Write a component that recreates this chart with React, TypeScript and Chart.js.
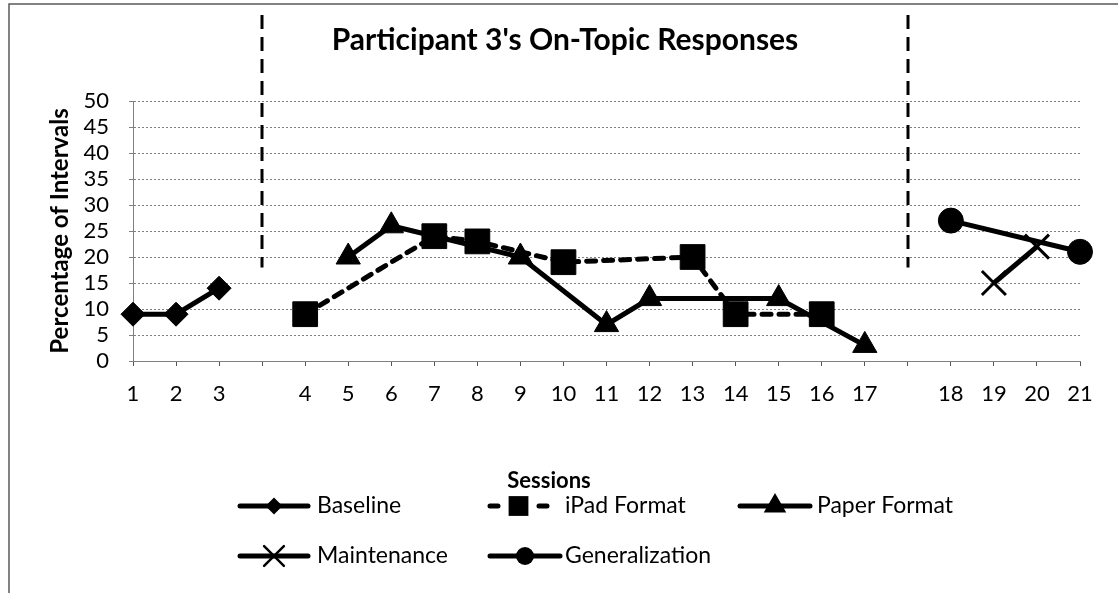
import React, { useEffect, useRef } from 'react';
import { Chart, registerables } from 'chart.js';

Chart.register(...registerables);

// Category axis: blank slots are phase-change positions
const categories = ['1', '2', '3', '', '4', '5', '6', '7', '8', '9', '10', '11', '12', '13', '14', '15', '16', '17', '', '18', '19', '20', '21'];

const baseline = [9, 9, 14, null, null, null, null, null, null, null, null, null, null, null, null, null, null, null, null, null, null, null, null];
const ipadFormat = [null, null, null, null, 9, null, null, 24, 23, null, 19, null, null, 20, 9, null, 9, null, null, null, null, null, null];
const paperFormat = [null, null, null, null, null, 20, 26, null, null, 20, null, 7, 12, null, null, 12, null, 3, null, null, null, null, null];
const maintenance = [null, null, null, null, null, null, null, null, null, null, null, null, null, null, null, null, null, null, null, null, 15, 22, null];
const generalization = [null, null, null, null, null, null, null, null, null, null, null, null, null, null, null, null, null, null, null, 27, null, null, 21];

const seriesLabels = ['Baseline', 'iPad Format', 'Paper Format', 'Maintenance', 'Generalization'];
const yTicksMax = 50;
const yTicksStep = 5;
const phaseLineTopValue = 18;

const chartTitle = "Participant 3's On-Topic Responses";
const xTitle = 'Sessions';
const yTitle = 'Percentage of Intervals';

const FONT = 'Lato';

function drawMarker(ctx: CanvasRenderingContext2D, style: string, x: number, y: number, r: number) {
  ctx.save();
  ctx.fillStyle = '#000';
  ctx.strokeStyle = '#000';
  ctx.setLineDash([]);
  ctx.beginPath();
  if (style === 'rectRot') {
    ctx.moveTo(x, y - r);
    ctx.lineTo(x + r, y);
    ctx.lineTo(x, y + r);
    ctx.lineTo(x - r, y);
    ctx.closePath();
    ctx.fill();
  } else if (style === 'rect') {
    const s = r * Math.SQRT1_2;
    ctx.rect(x - s, y - s, 2 * s, 2 * s);
    ctx.fill();
  } else if (style === 'triangle') {
    let a = 0;
    ctx.moveTo(x + Math.sin(a) * r, y - Math.cos(a) * r);
    a += (2 * Math.PI) / 3;
    ctx.lineTo(x + Math.sin(a) * r, y - Math.cos(a) * r);
    a += (2 * Math.PI) / 3;
    ctx.lineTo(x + Math.sin(a) * r, y - Math.cos(a) * r);
    ctx.closePath();
    ctx.fill();
  } else if (style === 'circle') {
    ctx.arc(x, y, r, 0, Math.PI * 2);
    ctx.fill();
  } else if (style === 'crossRot') {
    const o = r * Math.SQRT1_2;
    ctx.lineWidth = 2.5;
    ctx.moveTo(x - o, y - o);
    ctx.lineTo(x + o, y + o);
    ctx.moveTo(x - o, y + o);
    ctx.lineTo(x + o, y - o);
    ctx.stroke();
  }
  ctx.restore();
}

const decorPlugin = {
  id: 'decor',
  beforeDraw(chart: any) {
    const ctx = chart.ctx as CanvasRenderingContext2D;
    ctx.save();
    ctx.strokeStyle = '#5a5a5a';
    ctx.lineWidth = 1.5;
    ctx.beginPath();
    ctx.moveTo(9, chart.height);
    ctx.lineTo(9, 4);
    ctx.lineTo(chart.width, 4);
    ctx.stroke();
    ctx.restore();
  },
  afterDraw(chart: any) {
    const ctx = chart.ctx as CanvasRenderingContext2D;
    const xs = chart.scales.x;
    const ys = chart.scales.y;

    // phase-change lines
    ctx.save();
    ctx.strokeStyle = '#000';
    ctx.lineWidth = 3;
    ctx.setLineDash([14, 8]);
    categories.forEach((c, i) => {
      if (c !== '') return;
      const px = Math.round(xs.getPixelForValue(i));
      ctx.beginPath();
      ctx.moveTo(px, 15);
      ctx.lineTo(px, ys.getPixelForValue(phaseLineTopValue));
      ctx.stroke();
    });
    ctx.restore();

    // title
    ctx.save();
    ctx.fillStyle = '#000';
    ctx.font = `bold 30px ${FONT}`;
    ctx.textAlign = 'center';
    ctx.textBaseline = 'middle';
    ctx.fillText(chartTitle, 565, 40);

    // x axis title
    ctx.font = `bold 22px ${FONT}`;
    ctx.fillText(xTitle, 549, 481);
    ctx.restore();

    // legend: [sampleStart, sampleEnd, textStart, y]
    const pos = [
      [238, 310, 317, 506],
      [488, 549, 565, 506],
      [738, 812, 817, 506],
      [238, 310, 317, 556],
      [488, 562, 565, 556],
    ];
    const markerR = [8.5, 14, 13, 14, 9];
    chart.data.datasets.forEach((ds: any, i: number) => {
      const [x0, x1, tx, ly] = pos[i];
      const mid = (x0 + x1) / 2;
      ctx.save();
      ctx.strokeStyle = '#000';
      ctx.lineWidth = 5;
      ctx.lineCap = 'round';
      if (ds.borderDash && ds.borderDash.length) {
        ctx.beginPath();
        ctx.moveTo(x0 + 2, ly);
        ctx.lineTo(x0 + 10, ly);
        ctx.moveTo(x1 - 10, ly);
        ctx.lineTo(x1 - 2, ly);
        ctx.stroke();
      } else {
        ctx.beginPath();
        ctx.moveTo(x0 + 2, ly);
        ctx.lineTo(x1 - 2, ly);
        ctx.stroke();
      }
      drawMarker(ctx, ds.pointStyle, mid, ly, markerR[i]);
      ctx.fillStyle = '#000';
      ctx.font = `23px ${FONT}`;
      ctx.textAlign = 'left';
      ctx.textBaseline = 'middle';
      ctx.fillText(ds.label, tx, ly);
      ctx.restore();
    });
  },
};

export default function App() {
  const canvasRef = useRef<HTMLCanvasElement | null>(null);

  useEffect(() => {
    if (!canvasRef.current) return;
    const common = {
      borderColor: '#000',
      backgroundColor: '#000',
      pointBackgroundColor: '#000',
      pointBorderColor: '#000',
      borderWidth: 5,
      spanGaps: true,
      tension: 0,
    };
    const chart = new Chart(canvasRef.current, {
      type: 'line',
      data: {
        labels: categories,
        datasets: [
          { ...common, label: seriesLabels[0], data: baseline, pointStyle: 'rectRot', pointRadius: 12, pointBorderWidth: 1 },
          { ...common, label: seriesLabels[1], data: ipadFormat, pointStyle: 'rect', pointRadius: 17.5, pointBorderWidth: 1, borderDash: [9, 8], borderCapStyle: 'round' },
          { ...common, label: seriesLabels[2], data: paperFormat, pointStyle: 'triangle', pointRadius: 14, pointBorderWidth: 1 },
          { ...common, label: seriesLabels[3], data: maintenance, pointStyle: 'crossRot', pointRadius: 17, pointBorderWidth: 3 },
          { ...common, label: seriesLabels[4], data: generalization, pointStyle: 'circle', pointRadius: 12.5, pointBorderWidth: 1 },
        ],
      },
      options: {
        responsive: false,
        animation: false,
        devicePixelRatio: 1,
        layout: { padding: { top: 101, right: 38, bottom: 182, left: 0 } },
        plugins: {
          legend: { display: false },
          title: { display: false },
          tooltip: { enabled: false },
        },
        scales: {
          x: {
            type: 'category',
            offset: false,
            grid: { drawOnChartArea: false, drawTicks: true, tickLength: 5, color: '#555' },
            border: { display: true, color: '#808080', width: 1, dash: [2, 2] },
            ticks: { color: '#000', font: { family: FONT, size: 22 }, padding: 15, maxRotation: 0, minRotation: 0, autoSkip: false },
            afterFit: (s: any) => { s.height = 50; },
          },
          y: {
            min: 0,
            max: yTicksMax,
            grid: { color: '#808080', lineWidth: 1, drawTicks: true, tickLength: 4 },
            border: { display: true, color: '#808080', width: 1, dash: [2, 2] },
            ticks: { stepSize: yTicksStep, autoSkip: false, color: '#000', font: { family: FONT, size: 22, lineHeight: 1 }, padding: 20 },
            title: { display: true, text: yTitle, color: '#000', font: { family: FONT, size: 24, weight: 'bold' }, padding: { top: 46, bottom: 0 } },
            afterFit: (s: any) => { s.width = 133; },
          },
        },
      },
      plugins: [decorPlugin],
    } as any);
    return () => chart.destroy();
  }, []);

  return (
    <div style={{ position: 'absolute', left: 0, top: 0, width: 1118, height: 593, background: '#fff' }}>
      <canvas ref={canvasRef} width={1118} height={593} style={{ display: 'block' }} />
    </div>
  );
}
